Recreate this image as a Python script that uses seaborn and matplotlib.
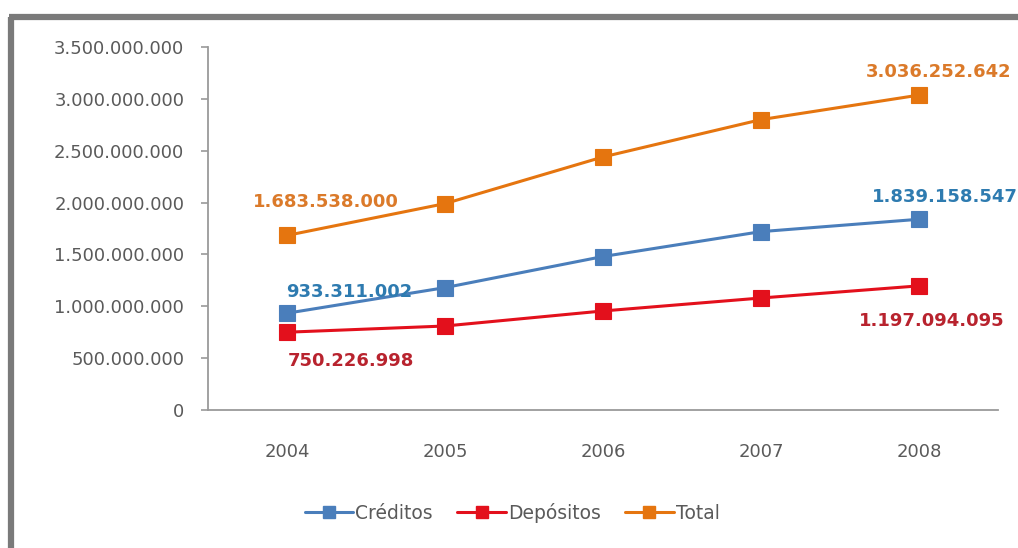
import matplotlib
matplotlib.use("Agg")
import matplotlib.pyplot as plt
import matplotlib.ticker as mticker
from matplotlib.lines import Line2D
import seaborn as sns
import pandas as pd

years = ["2004", "2005", "2006", "2007", "2008"]
creditos = [933311002, 1180000000, 1480000000, 1720000000, 1839158547]
depositos = [750226998, 810000000, 955000000, 1080000000, 1197094095]
total = [1683538000, 1990000000, 2440000000, 2800000000, 3036252642]
series_names = ["Créditos", "Depósitos", "Total"]
yticks = [0, 500000000, 1000000000, 1500000000, 2000000000, 2500000000, 3000000000, 3500000000]

# labelled points: (series, index, text)
labels = [
    ("Total", 0, "1.683.538.000"),
    ("Créditos", 0, "933.311.002"),
    ("Depósitos", 0, "750.226.998"),
    ("Total", 4, "3.036.252.642"),
    ("Créditos", 4, "1.839.158.547"),
    ("Depósitos", 4, "1.197.094.095"),
]

line_colors = {"Créditos": "#4A7EBB", "Depósitos": "#E3101C", "Total": "#E5750F"}
label_colors = {"Créditos": "#2E7BB0", "Depósitos": "#B8232E", "Total": "#DB7A2A"}
label_offsets = {  # (dx points, dy points) relative to point
    ("Total", 0): (28, 24),
    ("Créditos", 0): (45, 15),
    ("Depósitos", 0): (46, -21),
    ("Total", 4): (14, 17),
    ("Créditos", 4): (19, 16),
    ("Depósitos", 4): (9, -25),
}

values = {"Créditos": creditos, "Depósitos": depositos, "Total": total}
df = pd.DataFrame({
    "Año": years * 3,
    "Serie": [s for s in series_names for _ in years],
    "Valor": creditos + depositos + total,
})

sns.set_theme(style="white")
plt.rcParams["font.family"] = ["DejaVu Sans"]

fig = plt.figure(figsize=(10.18, 5.48), dpi=100)
ax = fig.add_axes([0.2043, 0.2518, 0.7760, 0.6624])

sns.lineplot(data=df, x="Año", y="Valor", hue="Serie", hue_order=series_names,
             palette=line_colors, marker="s", markersize=12, linewidth=2.2,
             markeredgewidth=0.8, ax=ax, legend=False, sort=False)
for l in ax.lines:
    l.set_markeredgecolor(l.get_color())

ax.set_xlim(-0.5, 4.5)
ax.set_ylim(0, 3500000000)
ax.set_yticks(yticks)
ax.yaxis.set_major_formatter(mticker.FuncFormatter(lambda v, p: f"{int(v):,}".replace(",", ".")))
ax.set_xticks(range(len(years)))
ax.set_xticks([i - 0.5 for i in range(len(years) + 1)], minor=True)
ax.tick_params(axis="x", which="major", length=0, pad=24, labelsize=13, colors="#5a5a5a")
ax.tick_params(axis="x", which="minor", length=5, width=1.2, color="#9a9a9a", direction="out")
ax.tick_params(axis="y", which="major", length=5, width=1.2, color="#9a9a9a", direction="out",
               labelsize=13, labelcolor="#5a5a5a", pad=12, left=True)
ax.set_xlabel("")
ax.set_ylabel("")
for s in ["top", "right"]:
    ax.spines[s].set_visible(False)
for s in ["left", "bottom"]:
    ax.spines[s].set_color("#9a9a9a")
    ax.spines[s].set_linewidth(1.3)
ax.grid(False)

for ser, i, txt in labels:
    dx, dy = label_offsets[(ser, i)]
    ax.annotate(txt, (years[i], values[ser][i]), xytext=(dx, dy), textcoords="offset points",
                ha="center", va="center", fontsize=13, fontweight="bold",
                color=label_colors[ser])

handles = [Line2D([0], [0], color=line_colors[s], marker="s", markersize=9, linewidth=2.2)
           for s in series_names]
leg = fig.legend(handles, series_names, loc="center", bbox_to_anchor=(0.503, 0.064), ncol=3,
                 frameon=False, fontsize=13.5, handlelength=2.6, handletextpad=0.1,
                 columnspacing=1.3)
for t in leg.get_texts():
    t.set_color("#5a5a5a")

# outer gray frame (left and top edges)
fig.add_artist(Line2D([0.0108, 0.0108], [0.0, 0.9695], transform=fig.transFigure,
                      color="#7a7a7a", linewidth=4.5, solid_capstyle="butt"))
fig.add_artist(Line2D([0.0085, 1.0], [0.9695, 0.9695], transform=fig.transFigure,
                      color="#7a7a7a", linewidth=4.5, solid_capstyle="butt"))

fig.savefig("out.png", dpi=100)
